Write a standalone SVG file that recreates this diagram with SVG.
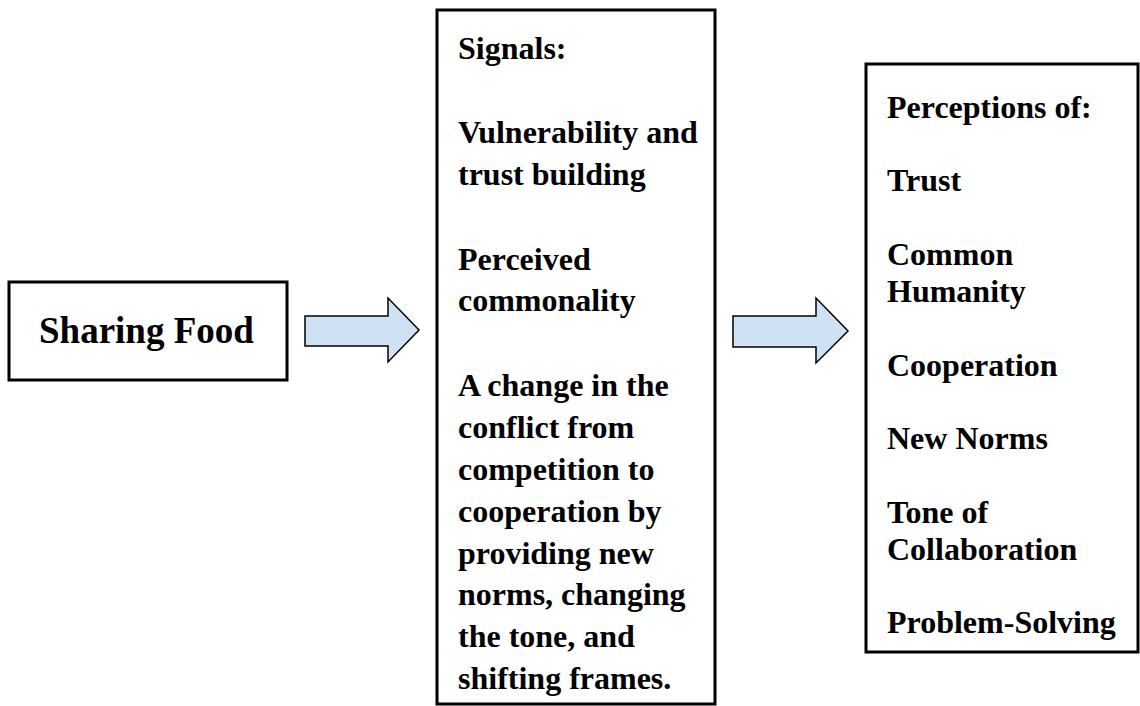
<svg xmlns="http://www.w3.org/2000/svg" width="1140" height="706" viewBox="0 0 1140 706">
<style>
.box{fill:#fff;stroke:#000;stroke-width:3}
.arr{fill:#cfe2f3;stroke:#000;stroke-width:1.5;stroke-linejoin:miter}
text{font-family:"Liberation Serif","Times New Roman",serif;font-weight:bold;font-size:32px;fill:#000}
.big{font-size:37px}
</style>
<rect width="1140" height="706" fill="#fff"/>
<g id="node-sharing">
<rect class="box" x="9" y="282" width="278" height="98"/>
<text class="big" x="39" y="343">Sharing Food</text>
</g>
<g id="node-signals">
<rect class="box" x="437" y="10" width="278" height="694"/>
<text x="458" y="59">Signals:</text>
<text x="458" y="143">Vulnerability and</text>
<text x="458" y="185">trust building</text>
<text x="458" y="270">Perceived</text>
<text x="458" y="311">commonality</text>
<text x="458" y="396">A change in the</text>
<text x="458" y="438">conflict from</text>
<text x="458" y="480">competition to</text>
<text x="458" y="522">cooperation by</text>
<text x="458" y="564">providing new</text>
<text x="458" y="605">norms, changing</text>
<text x="458" y="647">the tone, and</text>
<text x="458" y="689">shifting frames.</text>
</g>
<g id="node-perceptions">
<rect class="box" x="866" y="64" width="272" height="588"/>
<text x="887" y="118">Perceptions of:</text>
<text x="887" y="191">Trust</text>
<text x="887" y="265">Common</text>
<text x="887" y="302">Humanity</text>
<text x="887" y="376">Cooperation</text>
<text x="887" y="449">New Norms</text>
<text x="887" y="523">Tone of</text>
<text x="887" y="560">Collaboration</text>
<text x="887" y="633">Problem-Solving</text>
</g>
<g id="connectors">
<polygon class="arr" points="305,316 388,316 388,298 419,330 388,362 388,346 305,346"/>
<polygon class="arr" points="733,316 816,316 816,298 848,331 816,363 816,347 733,347"/>
</g>
</svg>
